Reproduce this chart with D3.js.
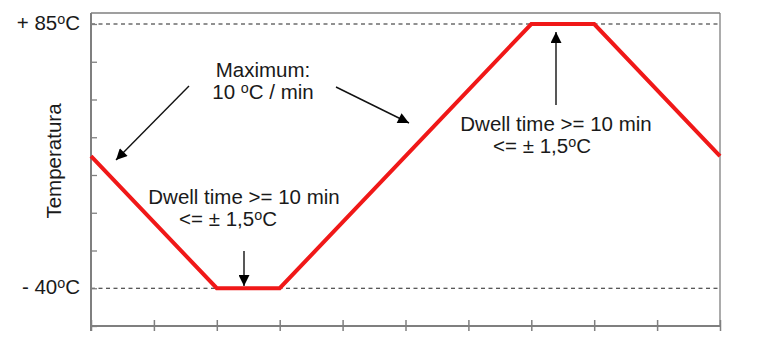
<!DOCTYPE html>
<html><head><meta charset="utf-8">
<script src="https://cdn.jsdelivr.net/npm/d3@7"></script>
<style>
html,body{margin:0;padding:0;background:#fff;}
svg{display:block;font-family:"Liberation Sans",Arial,sans-serif;}
</style></head>
<body>
<svg id="c" width="757" height="355"></svg>
<script>
// ---- data ----
const timeTicks = [0,1,2,3,4,5,6,7,8,9,10];
const profileTime = [0, 2, 3, 7, 8, 10];
const profileTemp = [22.5, -40, -40, 85, 85, 22.5];
const limitTemps = [85, -40];
const limitLabels = ["+ 85", "- 40"];
const tempStep = 125 / 7;
const tempTicks = d3.range(-1, 8).map(k => -40 + k * tempStep);
const yTitle = "Temperatura";
const rateText = ["Maximum:", "10 ", "C / min"];
const dwellText = ["Dwell time >= 10 min", "<= \u00B1 1,5"];

const svg = d3.select("#c");
const x = d3.scaleLinear().domain([0, 10]).range([91, 720]);
const y = d3.scaleLinear().domain([-40 - tempStep, 85]).range([326, 24]);
const axisCol = "#7f7f7f";
const topY = 13;

// frame top & right
svg.append("line").attr("x1", x(0)).attr("x2", x(10)).attr("y1", topY).attr("y2", topY)
  .attr("stroke", axisCol).attr("stroke-width", 1.6);
svg.append("line").attr("x1", x(10)).attr("x2", x(10)).attr("y1", topY).attr("y2", y.range()[0])
  .attr("stroke", axisCol).attr("stroke-width", 1.3);

// dashed limits
svg.selectAll("line.lim").data(limitTemps).join("line").attr("class","lim")
  .attr("x1", x(0)).attr("x2", x(10)).attr("y1", d => y(d)).attr("y2", d => y(d))
  .attr("stroke", "#222").attr("stroke-width", 1).attr("stroke-dasharray", "4,3.5");

// left axis
const gy = svg.append("g").attr("transform", `translate(${x(0)},0)`)
  .call(d3.axisLeft(y).tickValues(tempTicks).tickSize(-6).tickFormat(""));
gy.select(".domain").attr("stroke", axisCol).attr("stroke-width", 2).attr("d", `M0,${topY}V${y.range()[0]+5}`);
gy.selectAll(".tick line").attr("stroke", axisCol).attr("stroke-width", 1.3);

// bottom axis
const gx = svg.append("g").attr("transform", `translate(0,${y.range()[0]})`)
  .call(d3.axisBottom(x).tickValues(timeTicks).tickSize(5).tickFormat(""));
gx.select(".domain").attr("stroke", axisCol).attr("stroke-width", 2).attr("d", `M${x(0)},0H${x(10)}`);
gx.selectAll(".tick line").attr("stroke", axisCol).attr("stroke-width", 1.5).attr("y1", -6);

// profile line
const pts = profileTime.map((t, i) => [t, profileTemp[i]]);
svg.append("path").datum(pts)
  .attr("d", d3.line().x(d => x(d[0])).y(d => y(d[1])))
  .attr("fill", "none").attr("stroke", "#f01818").attr("stroke-width", 4)
  .attr("stroke-linejoin", "miter");

// arrow marker
svg.append("defs").append("marker").attr("id", "ah")
  .attr("viewBox", "0 0 10 10").attr("refX", 10).attr("refY", 5)
  .attr("markerWidth", 13).attr("markerHeight", 11).attr("markerUnits", "userSpaceOnUse")
  .attr("orient", "auto")
  .append("path").attr("d", "M0,0L10,5L0,10Z").attr("fill", "#000");

function arrow(x1, y1, x2, y2) {
  svg.append("line").attr("x1", x1).attr("y1", y1).attr("x2", x2).attr("y2", y2)
    .attr("stroke", "#111").attr("stroke-width", 1.4).attr("marker-end", "url(#ah)");
}
arrow(189, 86, 116, 160);
arrow(336, 87, 409, 123);
arrow(556, 105, 556, 32);
arrow(244, 251, 244, 286);

const txtCol = "#1a1a1a";
const fs = 20.5;
function addDeg(t, pre, post, xx, dy) {
  t.append("tspan").attr("x", xx).attr("dy", dy).text(pre);
  t.append("tspan").attr("font-size", fs * 0.7).attr("dy", -6).text("o");
  t.append("tspan").attr("dy", 6).text(post);
}
function degText(pre, post, xx, yy, anchor) {
  const t = svg.append("text").attr("x", xx).attr("y", yy).attr("text-anchor", anchor)
    .attr("font-size", fs).attr("fill", txtCol);
  addDeg(t, pre, post, xx, 0);
  return t;
}
function twoLine(l1, x1, y1, pre, post, x2, gap) {
  const t = svg.append("text").attr("x", x1).attr("y", y1).attr("text-anchor", "middle")
    .attr("font-size", fs).attr("fill", txtCol);
  t.append("tspan").attr("x", x1).text(l1);
  addDeg(t, pre, post, x2, gap);
}

// y limit labels
limitTemps.forEach((v, i) => {
  degText(limitLabels[i], "C", 80, y(v) + 6, "end");
});

// y title
svg.append("text").attr("transform", `translate(61,161) rotate(-90)`)
  .attr("text-anchor", "middle").attr("font-size", fs).attr("fill", txtCol).text(yTitle);

// rate annotation
twoLine(rateText[0], 263, 77, rateText[1], rateText[2], 263, 22);

// dwell annotations
twoLine(dwellText[0], 244, 203.5, dwellText[1], "C", 228, 22);
twoLine(dwellText[0], 556, 130.5, dwellText[1], "C", 542, 22);
</script>
</body></html>
